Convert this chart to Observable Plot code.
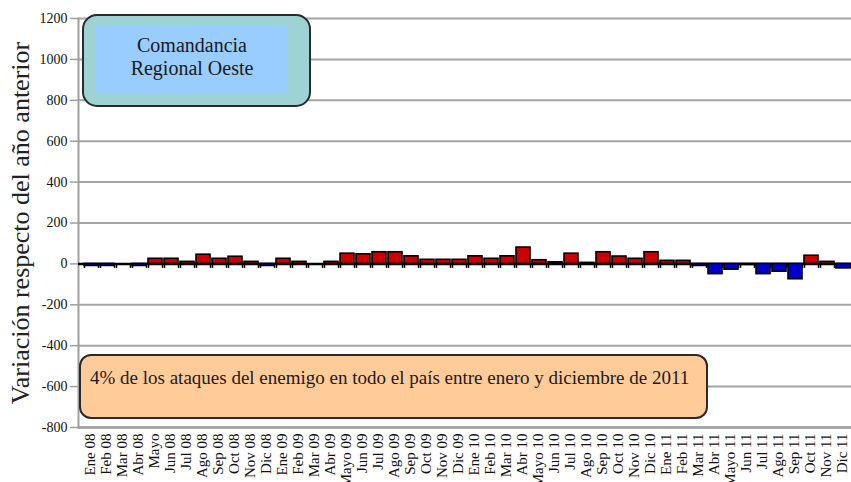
<!DOCTYPE html>
<html><head><meta charset="utf-8">
<script src="https://cdn.jsdelivr.net/npm/d3@7"></script>
<script src="https://cdn.jsdelivr.net/npm/@observablehq/plot@0.6"></script>
<style>
html,body{margin:0;padding:0;background:#fff;overflow:hidden;}
#chart{position:relative;width:851px;height:482px;overflow:hidden;}
#chart svg, #chart svg text{font-family:"Liberation Serif","Times New Roman",serif !important;}
</style></head><body><div id="chart"></div>
<script>
const months = ["Ene 08","Feb 08","Mar 08","Abr 08","Mayo","Jun 08","Jul 08","Ago 08","Sep 08","Oct 08","Nov 08","Dic 08",
"Ene 09","Feb 09","Mar 09","Abr 09","Mayo 09","Jun 09","Jul 09","Ago 09","Sep 09","Oct 09","Nov 09","Dic 09",
"Ene 10","Feb 10","Mar 10","Abr 10","Mayo 10","Jun 10","Jul 10","Ago 10","Sep 10","Oct 10","Nov 10","Dic 10",
"Ene 11","Feb 11","Mar 11","Abr 11","Mayo 11","Jun 11","Jul 11","Ago 11","Sep 11","Oct 11","Nov 11","Dic 11"];
const values = [-10,-10,0,-10,25,25,10,45,25,35,10,-10,
25,10,0,10,50,47,57,57,37,20,20,20,
37,25,37,80,18,8,50,5,57,36,25,57,
15,15,-10,-50,-28,-5,-50,-38,-75,40,10,-22];
const yTicks = [-800,-600,-400,-200,0,200,400,600,800,1000,1200];
const yTitle = "Variación respecto del año anterior";
const boxTitle = ["Comandancia","Regional Oeste"];
const boxNote = "4% de los ataques del enemigo en todo el país entre enero y diciembre de 2011";

const data = months.map((m,i)=>({month:m, value:values[i]}));

const plot = Plot.plot({
  width: 851, height: 482,
  marginLeft: 78, marginRight: 0, marginTop: 18, marginBottom: 55,
  style: {background: "#fff"},
  x: {domain: months, range: [76, 76 + 48*16.3], padding: 0.13},
  y: {domain: [-800, 1200]},
  color: {type: "identity"},
  marks: [
    Plot.ruleY(yTicks, {stroke: "#a4a4a4", strokeWidth: 2}),
    Plot.ruleY([-800], {stroke: "#a0a0a0", strokeWidth: 2.5}),
    Plot.frame({anchor: "left", stroke: "#a0a0a0", strokeWidth: 2}),
    Plot.axisY({ticks: yTicks, tickSize: 8, tickPadding: 3, stroke: "#a0a0a0", strokeWidth: 1.5, fill: "#111", fontSize: 14, tickFormat: d => String(d), label: null}),
    Plot.axisX({tickSize: 0, tickPadding: 6, tickRotate: -90, fontSize: 15, fill: "#111", dx: -1, label: null}),
    Plot.text([yTitle], {frameAnchor: "left", textAnchor: "middle", rotate: -90, dx: -58, fontSize: 26, fill: "#222"}),
    Plot.ruleY([0], {stroke: "#000", strokeWidth: 2.5}),
    Plot.ruleX(data, {x: "month", y1: 0, y2: -22, dx: -7, stroke: "#000", strokeWidth: 1.5}),
    Plot.ruleX(data, {x: "month", y1: 0, y2: -22, dx: 7, stroke: "#000", strokeWidth: 1.5}),
    Plot.barY(data, {x: "month", y: "value", fill: d => d.value >= 0 ? "#cc0000" : "#0000cc", stroke: "#000", strokeWidth: 1.6})
  ]
});

const svg = d3.select(plot);
// annotation box 1
const g1 = svg.append("g");
g1.append("rect").attr("x",83).attr("y",15).attr("width",227).attr("height",91).attr("rx",14)
  .attr("fill","#9ed3d4").attr("stroke","#2a2a2a").attr("stroke-width",2);
g1.append("rect").attr("x",95).attr("y",26).attr("width",193).attr("height",68).attr("fill","#99ccff");
g1.selectAll("text.t").data(boxTitle).join("text")
  .attr("x",192).attr("y",(d,i)=>47+i*23).attr("text-anchor","middle").attr("dominant-baseline","middle")
  .attr("font-size",20).attr("fill","#1a1a1a").text(d=>d);
// annotation box 2
const g2 = svg.append("g");
g2.append("rect").attr("x",80).attr("y",355).attr("width",627).attr("height",63).attr("rx",11)
  .attr("fill","#ffcc99").attr("stroke","#2a2a2a").attr("stroke-width",2);
g2.append("text").attr("x",90).attr("y",380).attr("text-anchor","start").attr("dominant-baseline","middle")
  .attr("font-size",19).attr("fill","#1a1a1a").text(boxNote);

document.getElementById("chart").appendChild(plot);
</script></body></html>
